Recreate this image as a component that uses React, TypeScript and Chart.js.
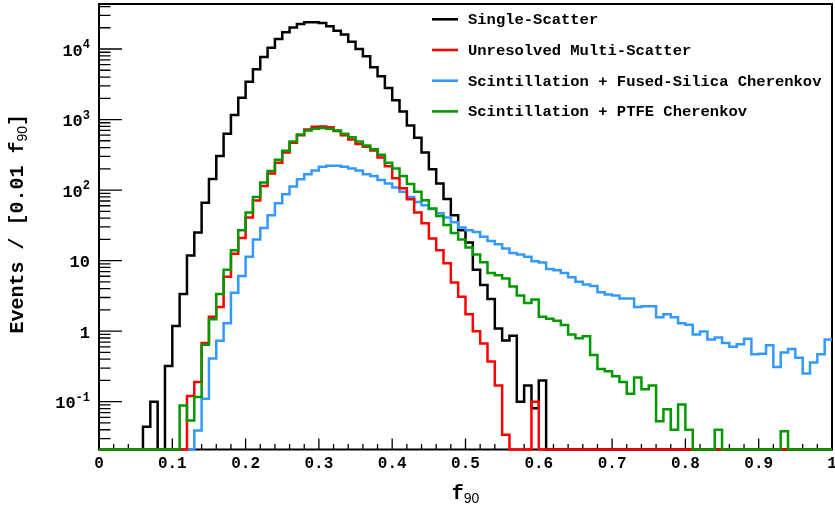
import React, { useEffect, useRef } from "react";
import { Chart, registerables } from "chart.js";

Chart.register(...registerables);

// ---- data (events per 0.01 f90 bin, bins start at f90 = 0.00, 0.01, ... 0.99) ----
const BIN_WIDTH = 0.01;

const seriesLabels = [
  "Single-Scatter",
  "Unresolved Multi-Scatter",
  "Scintillation + Fused-Silica Cherenkov",
  "Scintillation + PTFE Cherenkov",
];

const singleScatter = [
  0, 0, 0, 0, 0, 0, 0.044, 0.1, 0, 0.32,
  1.18, 3.35, 11.8, 25, 66, 143, 305, 627, 1160, 2040,
  3440, 5150, 7700, 10400, 13900, 17300, 20100, 22600, 24000, 24000,
  23400, 21000, 18200, 16100, 12700, 10000, 7900, 5500, 4100, 2800,
  1880, 1300, 820, 550, 340, 197, 124, 75, 44, 27,
  18, 7.4, 4.5, 2.85, 1.09, 0.74, 0.86, 0.1, 0.17, 0.081,
  0.2, 0, 0, 0, 0, 0, 0, 0, 0, 0,
  0, 0, 0, 0, 0, 0, 0, 0, 0, 0,
  0, 0, 0, 0, 0, 0, 0, 0, 0, 0,
  0, 0, 0, 0, 0, 0, 0, 0, 0, 0,
];

const unresolvedMulti = [
  0, 0, 0, 0, 0, 0, 0, 0, 0, 0,
  0, 0, 0.12, 0.19, 0.68, 1.6, 2.2, 5.9, 12.5, 21,
  41, 71, 114, 172, 245, 340, 470, 600, 720, 790,
  800, 780, 690, 600, 520, 450, 410, 365, 290, 218,
  147, 106, 74, 48, 34, 20.6, 14, 9.2, 4.9, 3.07,
  1.73, 1.0, 0.67, 0.37, 0.17, 0.034, 0, 0, 0, 0.1,
  0, 0, 0, 0, 0, 0, 0, 0, 0, 0,
  0, 0, 0, 0, 0, 0, 0, 0, 0, 0,
  0, 0, 0, 0, 0, 0, 0, 0, 0, 0,
  0, 0, 0, 0, 0, 0, 0, 0, 0, 0,
];

const fusedSilica = [
  0, 0, 0, 0, 0, 0, 0, 0, 0, 0,
  0, 0, 0, 0.039, 0.11, 0.41, 0.73, 1.29, 3.5, 6.05,
  11.3, 20, 29, 44, 65, 87, 112, 142, 168, 190,
  214, 221, 221, 214, 203, 190, 168, 158, 139, 124,
  109, 95, 80, 68, 61, 54, 47, 41, 35, 29.5,
  27, 25.5, 21.8, 19, 17, 14.8, 12.8, 12.2, 11.3, 9.8,
  9.4, 7.6, 7.3, 6.7, 5.8, 5.0, 4.6, 4.35, 3.55, 3.3,
  3.2, 2.9, 2.9, 2.2, 2.25, 2.25, 1.57, 1.74, 1.57, 1.29,
  1.23, 0.9, 0.99, 0.76, 0.81, 0.68, 0.6, 0.65, 0.78, 0.47,
  0.48, 0.63, 0.31, 0.5, 0.56, 0.42, 0.25, 0.36, 0.47, 0.76,
];

const ptfe = [
  0, 0, 0, 0, 0, 0, 0, 0, 0, 0,
  0, 0.088, 0.054, 0.117, 0.64, 1.47, 3.35, 7.4, 14, 27,
  48, 80, 128, 187, 270, 360, 490, 612, 700, 740,
  760, 740, 700, 630, 560, 490, 430, 380, 316, 245,
  203, 158, 122, 95, 72, 55, 43, 32, 24.6, 20,
  15.3, 12.2, 9.5, 6.7, 6.2, 5.6, 4.3, 3.2, 2.5, 2.8,
  1.6, 1.5, 1.4, 1.22, 0.9, 0.79, 0.85, 0.46, 0.29, 0.27,
  0.23, 0.19, 0.13, 0.22, 0.15, 0.17, 0.053, 0.078, 0.04, 0.091,
  0.04, 0, 0, 0, 0.04, 0, 0, 0, 0, 0,
  0, 0, 0, 0.038, 0, 0, 0, 0, 0, 0,
];

const xTickValues = [0, 0.1, 0.2, 0.3, 0.4, 0.5, 0.6, 0.7, 0.8, 0.9, 1];
const xTickLabels = ["0", "0.1", "0.2", "0.3", "0.4", "0.5", "0.6", "0.7", "0.8", "0.9", "1"];
const yDecades = [-1, 0, 1, 2, 3, 4];
const yDecadeBase = ["10", "1", "10", "10", "10", "10"];
const yDecadeExp = ["-1", "", "", "2", "3", "4"];

const X_MIN = 0;
const X_MAX = 1;
const Y_MIN = 0.021;
const Y_MAX = 43450;

const COLORS = ["#000000", "#ff0000", "#3399ff", "#009900"];

const MONO = '"Liberation Mono", "DejaVu Sans Mono", monospace';
const SANS = '"Liberation Sans", "DejaVu Sans", sans-serif';

function toSteps(values: number[]) {
  const pts = values.map((v, i) => ({ x: X_MIN + i * BIN_WIDTH, y: v > 0 ? v : Y_MIN }));
  pts.push({ x: X_MIN + values.length * BIN_WIDTH, y: pts[pts.length - 1].y });
  return pts;
}

const rootStyle = {
  id: "rootStyle",
  beforeDatasetsDraw(chart: any) {
    const { ctx, chartArea: a } = chart;
    const xs = chart.scales.x;
    const ys = chart.scales.y;
    ctx.save();
    ctx.strokeStyle = "#000";
    ctx.lineWidth = 2;
    ctx.strokeRect(a.left, a.top, a.right - a.left, a.bottom - a.top);
    ctx.lineWidth = 1.3;
    ctx.beginPath();
    for (let k = 0; k <= 50; k++) {
      const v = k * 0.02;
      const px = xs.getPixelForValue(v);
      const len = k % 5 === 0 ? 11 : 5.5;
      ctx.moveTo(px, a.bottom);
      ctx.lineTo(px, a.bottom - len);
    }
    for (let d = -2; d <= 4; d++) {
      for (let m = 1; m <= 9; m++) {
        const v = m * Math.pow(10, d);
        if (v < Y_MIN || v > Y_MAX) continue;
        const py = ys.getPixelForValue(v);
        const len = m === 1 ? 23 : 11.5;
        ctx.moveTo(a.left, py);
        ctx.lineTo(a.left + len, py);
      }
    }
    ctx.stroke();
    ctx.restore();
  },
  afterDraw(chart: any) {
    const { ctx, chartArea: a } = chart;
    const xs = chart.scales.x;
    const ys = chart.scales.y;
    ctx.save();
    ctx.fillStyle = "#000";

    // x tick labels
    ctx.font = `bold 16px ${MONO}`;
    ctx.textAlign = "center";
    ctx.textBaseline = "middle";
    xTickValues.forEach((v, i) => {
      ctx.fillText(xTickLabels[i], xs.getPixelForValue(v), 464);
    });

    // y tick labels with superscripts
    ctx.textBaseline = "alphabetic";
    ctx.textAlign = "right";
    const right = 90;
    yDecades.forEach((d, i) => {
      const py = ys.getPixelForValue(Math.pow(10, d));
      const exp = yDecadeExp[i];
      let baseRight = right;
      if (exp) {
        ctx.font = `bold 12px ${MONO}`;
        const w = ctx.measureText(exp).width;
        ctx.fillText(exp, right, py - 1);
        baseRight = right - w;
      }
      ctx.font = `bold 17px ${MONO}`;
      ctx.fillText(yDecadeBase[i], baseRight, py + 6.5);
    });

    // x title: f_90
    ctx.textAlign = "left";
    ctx.font = `bold 20px ${MONO}`;
    const fW = ctx.measureText("f").width;
    ctx.font = `14px ${SANS}`;
    const subW = ctx.measureText("90").width;
    const cx = (a.left + a.right) / 2;
    const x0 = cx - (fW + subW) / 2;
    ctx.font = `bold 20px ${MONO}`;
    ctx.fillText("f", x0, 499);
    ctx.font = `14px ${SANS}`;
    ctx.fillText("90", x0 + fW, 503);

    // y title: Events / [0.01 f_90]
    const p1 = "Events / [0.01 f";
    const p3 = "]";
    ctx.font = `bold 20px ${MONO}`;
    const w1 = ctx.measureText(p1).width;
    const w3 = ctx.measureText(p3).width;
    ctx.font = `14px ${SANS}`;
    const w2 = ctx.measureText("90").width;
    const total = w1 + w2 + w3;
    ctx.translate(23, (a.top + a.bottom) / 2 - 3);
    ctx.rotate(-Math.PI / 2);
    let tx = -total / 2;
    ctx.font = `bold 20px ${MONO}`;
    ctx.fillText(p1, tx, 0);
    tx += w1;
    ctx.font = `14px ${SANS}`;
    ctx.fillText("90", tx, 4);
    tx += w2;
    ctx.font = `bold 20px ${MONO}`;
    ctx.fillText(p3, tx, 0);
    ctx.setTransform(1, 0, 0, 1, 0, 0);

    // legend
    ctx.font = `bold 15.5px ${MONO}`;
    ctx.textAlign = "left";
    ctx.textBaseline = "middle";
    chart.data.datasets.forEach((ds: any, i: number) => {
      const ly = 19.3 + i * 30.7;
      ctx.strokeStyle = ds.borderColor;
      ctx.lineWidth = 2.6;
      ctx.beginPath();
      ctx.moveTo(432, ly);
      ctx.lineTo(458, ly);
      ctx.stroke();
      ctx.fillStyle = "#000";
      ctx.fillText(ds.label, 468, ly + 1);
    });
    ctx.restore();
  },
};

export default function App() {
  const ref = useRef<HTMLCanvasElement | null>(null);

  useEffect(() => {
    if (!ref.current) return;
    const all = [singleScatter, unresolvedMulti, fusedSilica, ptfe];
    const drawOrder = [3, 1, 2, 0];
    const chart = new Chart(ref.current, {
      type: "line",
      data: {
        datasets: all.map((vals, i) => ({
          label: seriesLabels[i],
          data: toSteps(vals),
          borderColor: COLORS[i],
          backgroundColor: COLORS[i],
          borderWidth: 2.5,
          pointRadius: 0,
          fill: false,
          stepped: "before" as const,
          tension: 0,
          clip: 4,
          order: drawOrder[i],
        })),
      },
      options: {
        responsive: false,
        devicePixelRatio: 1,
        animation: false,
        events: [],
        layout: { padding: { left: 0, right: 3, top: 4, bottom: 0 } },
        plugins: { legend: { display: false }, tooltip: { enabled: false }, title: { display: false } },
        scales: {
          x: {
            type: "linear",
            min: X_MIN,
            max: X_MAX,
            grid: { display: false },
            border: { display: false },
            ticks: { display: false },
            afterFit: (s: any) => {
              s.height = 62.5;
            },
          },
          y: {
            type: "logarithmic",
            min: Y_MIN,
            max: Y_MAX,
            grid: { display: false },
            border: { display: false },
            ticks: { display: false },
            afterFit: (s: any) => {
              s.width = 99;
            },
          },
        },
      },
      plugins: [rootStyle],
    } as any);
    return () => chart.destroy();
  }, []);

  return (
    <div style={{ position: "fixed", left: 0, top: 0, width: 835, height: 512, background: "#fff" }}>
      <canvas ref={ref} width={835} height={512} style={{ display: "block" }} />
    </div>
  );
}
